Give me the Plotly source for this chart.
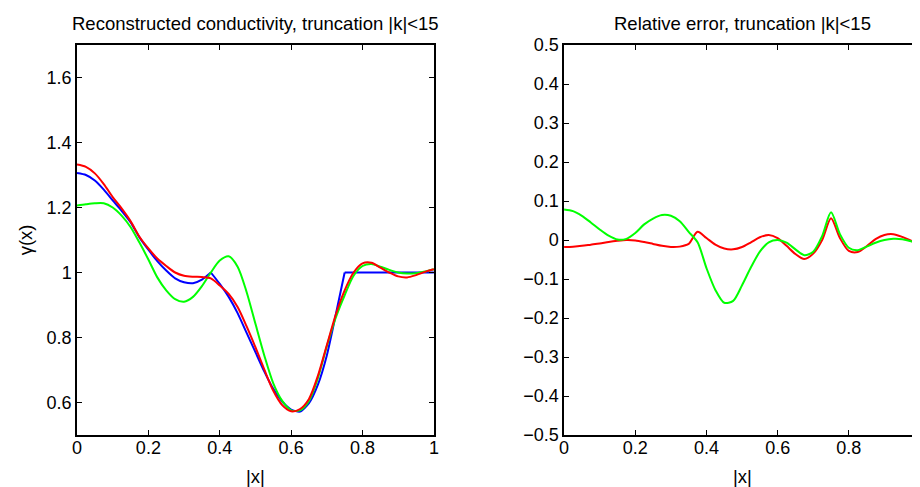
import plotly.graph_objects as go

# ---------------- data ----------------
x_grid = [0.0, 0.025, 0.05, 0.075, 0.1, 0.125, 0.15, 0.175, 0.2, 0.225,
          0.25, 0.275, 0.3, 0.325, 0.35, 0.375, 0.4, 0.425, 0.45, 0.475,
          0.5, 0.525, 0.55, 0.575, 0.6, 0.625, 0.65, 0.675, 0.7, 0.725,
          0.75, 0.775, 0.8, 0.825, 0.85, 0.875, 0.9, 0.925, 0.95, 0.975, 1.0]

true_gamma = [1.306, 1.300, 1.283, 1.255, 1.222, 1.190, 1.155, 1.108, 1.070, 1.035,
              1.006, 0.982, 0.970, 0.967, 0.978, 1.000, 0.965, 0.925, 0.875, 0.815,
              0.755, 0.695, 0.642, 0.603, 0.578, 0.572, 0.598, 0.655, 0.745, 0.870,
              1.000, 1.000, 1.000, 1.000, 1.000, 1.000, 1.000, 1.000, 1.000, 1.000, 1.000]

recon_red = [1.332, 1.325, 1.305, 1.272, 1.232, 1.197, 1.158, 1.110, 1.074, 1.043,
             1.020, 1.000, 0.990, 0.987, 0.986, 0.982, 0.960, 0.934, 0.894, 0.835,
             0.770, 0.701, 0.636, 0.592, 0.573, 0.580, 0.611, 0.682, 0.776, 0.870,
             0.945, 1.000, 1.028, 1.030, 1.015, 1.000, 0.988, 0.985, 0.992, 1.002, 1.010]

recon_green = [1.206, 1.210, 1.213, 1.213, 1.200, 1.175, 1.140, 1.092, 1.040, 0.985,
               0.945, 0.918, 0.910, 0.925, 0.958, 1.000, 1.037, 1.050, 1.018, 0.941,
               0.842, 0.744, 0.659, 0.605, 0.576, 0.576, 0.605, 0.675, 0.773, 0.861,
               0.930, 0.990, 1.020, 1.026, 1.018, 1.008, 1.000, 0.997, 0.998, 1.003, 1.010]

err_red = [-0.018, -0.017, -0.015, -0.012, -0.009, -0.005, -0.002, 0.000, -0.001, -0.005,
           -0.010, -0.015, -0.018, -0.017, -0.010, 0.021, 0.005, -0.012, -0.022, -0.024,
           -0.018, -0.006, 0.007, 0.013, 0.005, -0.015, -0.036, -0.049, -0.035, 0.000,
           0.056, 0.005, -0.028, -0.031, -0.016, 0.002, 0.013, 0.015, 0.008, -0.002, -0.010]

err_green = [0.078, 0.074, 0.062, 0.045, 0.027, 0.011, 0.001, 0.003, 0.018, 0.040,
             0.055, 0.064, 0.062, 0.048, 0.021, -0.006, -0.072, -0.128, -0.161, -0.156,
             -0.116, -0.070, -0.030, -0.006, 0.000, -0.007, -0.024, -0.039, -0.030, 0.010,
             0.071, 0.015, -0.020, -0.026, -0.017, -0.007, 0.000, 0.003, 0.002, -0.003, -0.010]

# the true profile has corners at |x| = 0.375 and |x| = 0.75 (indices 15 and 30)
true_pieces = [(0, 16), (15, 31), (30, 41)]

x_ticks = [0, 0.2, 0.4, 0.6, 0.8, 1]
x_ticktext = ["0", "0.2", "0.4", "0.6", "0.8", "1"]
y1_ticks = [0.6, 0.8, 1.0, 1.2, 1.4, 1.6]
y1_ticktext = ["0.6", "0.8", "1", "1.2", "1.4", "1.6"]
y2_ticks = [-0.5, -0.4, -0.3, -0.2, -0.1, 0, 0.1, 0.2, 0.3, 0.4, 0.5]
y2_ticktext = ["\u22120.5", "\u22120.4", "\u22120.3", "\u22120.2", "\u22120.1", "0",
               "0.1", "0.2", "0.3", "0.4", "0.5"]

title_left = "Reconstructed conductivity, truncation |k|<15"
title_right = "Relative error, truncation |k|<15"

# ---------------- figure ----------------
FONT = "Liberation Sans, Arial, Helvetica, sans-serif"
fig = go.Figure()

for a, b in true_pieces:
    fig.add_trace(go.Scatter(x=x_grid[a:b], y=true_gamma[a:b], mode="lines",
                             line=dict(color="#0000FF", width=2, shape="spline", smoothing=0.6),
                             xaxis="x", yaxis="y", showlegend=False))
fig.add_trace(go.Scatter(x=x_grid, y=recon_green, mode="lines",
                         line=dict(color="#00FF00", width=2, shape="spline", smoothing=0.8),
                         xaxis="x", yaxis="y", showlegend=False))
fig.add_trace(go.Scatter(x=x_grid, y=recon_red, mode="lines",
                         line=dict(color="#FF0000", width=2, shape="spline", smoothing=0.8),
                         xaxis="x", yaxis="y", showlegend=False))

fig.add_trace(go.Scatter(x=x_grid, y=err_red, mode="lines",
                         line=dict(color="#FF0000", width=2, shape="spline", smoothing=0.8),
                         xaxis="x2", yaxis="y2", showlegend=False))
fig.add_trace(go.Scatter(x=x_grid, y=err_green, mode="lines",
                         line=dict(color="#00FF00", width=2, shape="spline", smoothing=0.8),
                         xaxis="x2", yaxis="y2", showlegend=False))

W, H = 920, 487
ML, MR, MT, MB = 69, 3, 37, 60
PW = W - ML - MR
PH = H - MT - MB
d1 = [0.0, (428 - ML) / PW]
d2 = [(559 - ML) / PW, 1.0]

axis_common = dict(showgrid=False, zeroline=False, showline=True, linecolor="black",
                   linewidth=1.5, mirror="ticks", ticks="inside", ticklen=5,
                   tickwidth=1, tickcolor="black",
                   tickfont=dict(family=FONT, size=18, color="black"))

fig.update_layout(
    width=W, height=H,
    margin=dict(l=ML, r=MR, t=MT, b=MB, pad=0),
    paper_bgcolor="white", plot_bgcolor="white",
    xaxis=dict(domain=d1, range=[0, 1], tickvals=x_ticks, ticktext=x_ticktext,
               anchor="y", ticklabelstandoff=-4, **axis_common),
    yaxis=dict(domain=[0, 1], range=[0.5, 1.7], tickvals=y1_ticks, ticktext=y1_ticktext,
               anchor="x", **axis_common),
    xaxis2=dict(domain=d2, range=[0, 1], tickvals=x_ticks, ticktext=x_ticktext,
                anchor="y2", ticklabelstandoff=-4, **axis_common),
    yaxis2=dict(domain=[0, 1], range=[-0.5, 0.5], tickvals=y2_ticks, ticktext=y2_ticktext,
                anchor="x2", **axis_common),
)

def px_to_paper_y(py):
    return (H - MB - py) / PH

def px_to_paper_x(pxx):
    return (pxx - ML) / PW

ann_font = dict(family=FONT, size=18.5, color="black")
fig.add_annotation(text=title_left, x=(d1[0] + d1[1]) / 2, y=px_to_paper_y(16),
                   xref="paper", yref="paper", showarrow=False, xanchor="center",
                   yanchor="middle", font=ann_font)
fig.add_annotation(text=title_right, x=(d2[0] + d2[1]) / 2, y=px_to_paper_y(16),
                   xref="paper", yref="paper", showarrow=False, xanchor="center",
                   yanchor="middle", font=ann_font)
fig.add_annotation(text="|x|", x=(d1[0] + d1[1]) / 2, y=px_to_paper_y(468),
                   xref="paper", yref="paper", showarrow=False, xanchor="center",
                   yanchor="middle", font=ann_font)
fig.add_annotation(text="|x|", x=(d2[0] + d2[1]) / 2, y=px_to_paper_y(468),
                   xref="paper", yref="paper", showarrow=False, xanchor="center",
                   yanchor="middle", font=ann_font)
fig.add_annotation(text="\u03b3(x)", x=px_to_paper_x(17), y=px_to_paper_y(232),
                   xref="paper", yref="paper", showarrow=False, xanchor="center",
                   yanchor="middle", textangle=-90, font=ann_font)

fig.write_html("out.html")
